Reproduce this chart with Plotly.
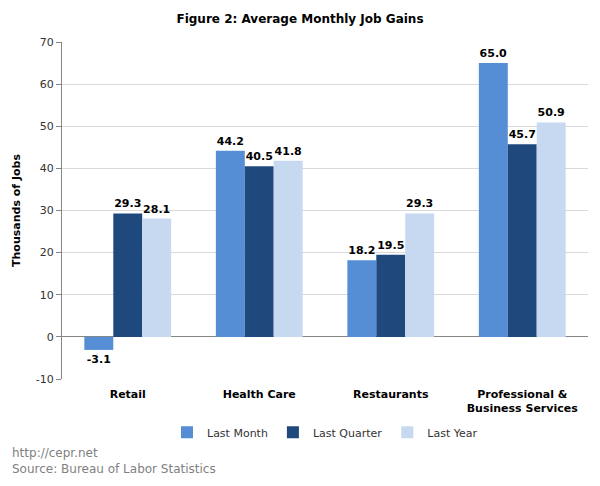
import plotly.graph_objects as go

categories = ["Retail", "Health Care", "Restaurants", "Professional &<br>Business Services"]
last_month = [-3.1, 44.2, 18.2, 65.0]
last_quarter = [29.3, 40.5, 19.5, 45.7]
last_year = [28.1, 41.8, 29.3, 50.9]
series_names = ["Last Month", "Last Quarter", "Last Year"]
colors = ["#558ED5", "#1F497D", "#C6D9F1"]
y_ticks = [-10, 0, 10, 20, 30, 40, 50, 60, 70]
y_tick_labels = ["-10", "0", "10", "20", "30", "40", "50", "60", "70"]

FONT = "DejaVu Sans"
fig = go.Figure()
for name, vals, col in zip(series_names, [last_month, last_quarter, last_year], colors):
    fig.add_trace(go.Bar(
        x=categories, y=vals, name=name, marker=dict(color=col, line=dict(width=0)),
        texttemplate="%{y:.1f}", textposition="outside",
        textfont=dict(family=FONT, size=11, color="#000000", weight="bold"),
        cliponaxis=False,
    ))

fig.update_layout(
    width=600, height=486,
    paper_bgcolor="white", plot_bgcolor="white",
    barmode="group", bargap=0.34, bargroupgap=0,
    margin=dict(l=62, r=12, t=42, b=107, autoexpand=False),
    title=dict(text="<b>Figure 2: Average Monthly Job Gains</b>", x=0.5, xanchor="center",
               y=0.961, yanchor="middle", font=dict(family="Verdana, DejaVu Sans", size=12, color="#000")),
    font=dict(family=FONT, size=11, color="#333"),
    legend=dict(orientation="h", x=0.5, xanchor="center", y=-0.158, yanchor="middle",
                font=dict(family=FONT, size=11, color="#333"), itemwidth=30, traceorder="normal",
                tracegroupgap=0, itemsizing="constant"),
    showlegend=True,
)
fig.update_yaxes(range=[-10, 70], tickvals=y_ticks, ticktext=y_tick_labels, showgrid=True, gridcolor="#D9D9D9", gridwidth=1,
                 zeroline=True, zerolinecolor="#868686", zerolinewidth=1, automargin=False,
                 showline=True, linecolor="#868686", linewidth=1, ticks="outside", ticklen=5,
                 tickcolor="#868686", tickfont=dict(family=FONT, size=11, color="#333"),
                 title=dict(text="<b>Thousands of Jobs</b>", font=dict(family=FONT, size=11, color="#000"), standoff=12))
fig.update_xaxes(showline=False, ticks="", tickfont=dict(family=FONT, size=11, color="#000", weight="bold"),
                 showgrid=False, automargin=False, ticklabelstandoff=7)
fig.add_annotation(text="http://cepr.net<br>Source: Bureau of Labor Statistics", xref="paper", yref="paper",
                   x=-52/526, y=-0.193, xanchor="left", yanchor="top", align="left", showarrow=False,
                   font=dict(family=FONT, size=12, color="#7F7F7F"))
fig.write_html("out.html", config={"displayModeBar": False},
               post_script="document.body.style.margin='0';document.body.style.overflow='hidden';")
